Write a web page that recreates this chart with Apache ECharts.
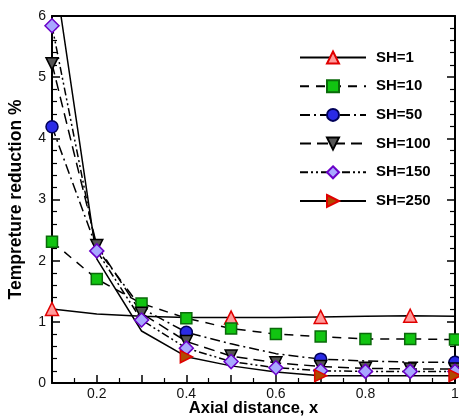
<!DOCTYPE html>
<html>
<head>
<meta charset="utf-8">
<script src="https://cdn.jsdelivr.net/npm/echarts@6/dist/echarts.min.js"></script>
<style>
  html, body { margin: 0; padding: 0; background: #fff; }
  #chart { width: 459px; height: 418px; }
</style>
</head>
<body>
<div id="chart"></div>
<script>
// axial positions
var xs = [0.1, 0.2, 0.3, 0.4, 0.5, 0.6, 0.7, 0.8, 0.9, 1.0];
var xLabels = [0.2, 0.4, 0.6, 0.8, 1];

// temperature reduction for each SH value
var sh1 = [1.21, 1.13, 1.09, 1.07, 1.07, 1.07, 1.08, 1.09, 1.10, 1.09];
var sh10 = [2.31, 1.70, 1.30, 1.06, 0.89, 0.80, 0.76, 0.72, 0.72, 0.71];
var sh50 = [4.19, 2.20, 1.22, 0.83, 0.64, 0.48, 0.39, 0.36, 0.34, 0.34];
var sh100 = [5.22, 2.25, 1.14, 0.68, 0.44, 0.33, 0.27, 0.24, 0.23, 0.23];
var sh150 = [5.84, 2.16, 1.03, 0.57, 0.35, 0.25, 0.20, 0.19, 0.19, 0.19];
var sh250 = [7.0, 2.03, 0.85, 0.43, 0.28, 0.18, 0.12, 0.12, 0.12, 0.12];

// which points carry a marker (tecplot skip)
var marks1 = [0, 4, 6, 8];
var marks10 = [0, 1, 2, 3, 4, 5, 6, 7, 8, 9];
var marks50 = [0, 3, 6, 9];
var marks100 = [0, 1, 2, 3, 4, 5, 6, 7, 8, 9];
var marks150 = [0, 1, 2, 3, 4, 5, 6, 7, 8, 9];
var marks250 = [0, 3, 6, 9];

var font = "'Liberation Sans', Arial, sans-serif";
var chart = echarts.init(document.getElementById('chart'));

function makeData(ys, marks) {
  var res = [];
  for (var i = 0; i < xs.length; i++) {
    var d = { value: [xs[i], ys[i]] };
    if (marks.indexOf(i) < 0) d.symbol = 'none';
    res.push(d);
  }
  return res;
}

function makeSeries(name, ys, marks, dash, symbol, size, fill, border) {
  return {
    name: name,
    type: 'line',
    data: makeData(ys, marks),
    symbol: symbol,
    symbolSize: size,
    showAllSymbol: true,
    clip: true,
    lineStyle: { color: '#000', width: 1.5, type: dash },
    itemStyle: { color: fill, borderColor: border, borderWidth: 1.5 },
    emphasis: { disabled: true },
    animation: false
  };
}

var triDown = 'path://M0,0 L10,0 L5,9 Z';
var triRight = 'path://M0,0 L9,5 L0,10 Z';

var option = {
  backgroundColor: '#fff',
  grid: { left: 52, right: 4, top: 16, bottom: 35, containLabel: false, outerBoundsMode: 'none' },
  legend: {
    orient: 'vertical',
    left: 299,
    top: 50,
    padding: 0,
    itemWidth: 66,
    itemHeight: 15,
    itemGap: 13.7,
    textStyle: { fontFamily: font, fontWeight: 'bold', fontSize: 15, color: '#000', lineHeight: 14, padding: [0, 0, 0, 5] },
    data: ['SH=1', 'SH=10', 'SH=50', 'SH=100', 'SH=150', 'SH=250']
  },
  xAxis: [
    {
      type: 'value',
      min: 0.1,
      max: 1,
      interval: 0.1,
      position: 'bottom',
      name: 'Axial distance, x',
      nameLocation: 'middle',
      nameGap: 17,
      nameMoveOverlap: false,
      nameTextStyle: { fontFamily: font, fontWeight: 'bold', fontSize: 16.5, color: '#000' },
      axisLine: { show: true, onZero: false, lineStyle: { color: '#000', width: 2 } },
      axisTick: { inside: true, length: 8, lineStyle: { color: '#000', width: 1.5 } },
      minorTick: { show: true, splitNumber: 2, length: 5, lineStyle: { color: '#000', width: 1.2 } },
      axisLabel: { customValues: xLabels, fontFamily: font, fontSize: 14, color: '#111', margin: 4 },
      splitLine: { show: false }
    },
    {
      type: 'value',
      min: 0.1,
      max: 1,
      position: 'top',
      axisLine: { show: true, onZero: false, lineStyle: { color: '#000', width: 2 } },
      axisTick: { show: false },
      axisLabel: { show: false },
      splitLine: { show: false }
    }
  ],
  yAxis: [
    {
      type: 'value',
      min: 0,
      max: 6,
      interval: 1,
      position: 'left',
      name: 'Tempreture reduction %',
      nameLocation: 'middle',
      nameGap: 27,
      nameMoveOverlap: false,
      nameTextStyle: { fontFamily: font, fontWeight: 'bold', fontSize: 17.5, color: '#000' },
      axisLine: { show: true, onZero: false, lineStyle: { color: '#000', width: 2 } },
      axisTick: { inside: true, length: 8, lineStyle: { color: '#000', width: 1.5 } },
      minorTick: { show: true, splitNumber: 5, length: 5, lineStyle: { color: '#000', width: 1.2 } },
      axisLabel: { fontFamily: font, fontSize: 14, color: '#111', margin: 6 },
      splitLine: { show: false }
    },
    {
      type: 'value',
      min: 0,
      max: 6,
      interval: 1,
      position: 'right',
      axisLine: { show: true, onZero: false, lineStyle: { color: '#000', width: 2 } },
      axisTick: { inside: true, length: 8, lineStyle: { color: '#000', width: 1.5 } },
      minorTick: { show: true, splitNumber: 5, length: 5, lineStyle: { color: '#000', width: 1.2 } },
      axisLabel: { show: false },
      splitLine: { show: false }
    }
  ],
  series: [
    makeSeries('SH=1', sh1, marks1, 'solid', 'triangle', 13, '#ff9a9a', '#e00000'),
    makeSeries('SH=10', sh10, marks10, [9, 7], 'rect', 11, '#11c411', '#0a6a0a'),
    makeSeries('SH=50', sh50, marks50, [10, 4, 2, 4], 'circle', 12, '#2a2ae6', '#00005a'),
    makeSeries('SH=100', sh100, marks100, [11, 6], triDown, 12, '#555555', '#000000'),
    makeSeries('SH=150', sh150, marks150, [8, 3, 2, 3, 2, 3], 'diamond', 14, '#a8a8ff', '#6a00c8'),
    makeSeries('SH=250', sh250, marks250, 'solid', triRight, 12, '#b04a00', '#e00000')
  ]
};
chart.setOption(option);
</script>
</body>
</html>
